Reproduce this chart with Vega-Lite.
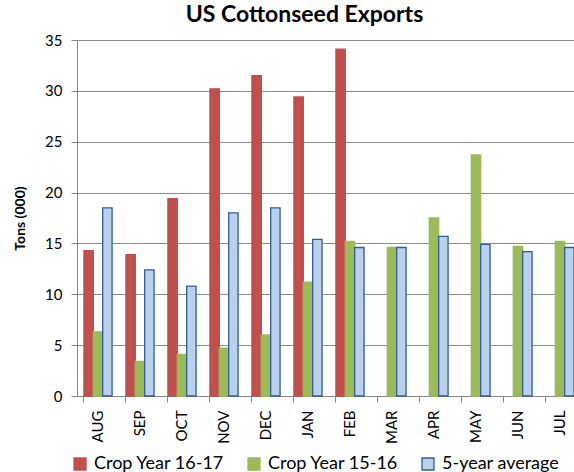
{
  "$schema": "https://vega.github.io/schema/vega-lite/v6.json",
  "width": 497,
  "height": 356,
  "autosize": "none",
  "padding": {"left": 77, "top": 40, "right": 0, "bottom": 76},
  "background": "white",
  "title": {
    "text": "US Cottonseed Exports",
    "font": "Lato",
    "fontSize": 23,
    "fontWeight": "bold",
    "color": "#000000",
    "anchor": "middle",
    "dx": -21,
    "offset": 6
  },
  "data": {
    "values": [
      {"month": "AUG", "series": "Crop Year 16-17", "value": 14.3},
      {"month": "AUG", "series": "Crop Year 15-16", "value": 6.3},
      {"month": "AUG", "series": "5-year average", "value": 18.5},
      {"month": "SEP", "series": "Crop Year 16-17", "value": 13.9},
      {"month": "SEP", "series": "Crop Year 15-16", "value": 3.4},
      {"month": "SEP", "series": "5-year average", "value": 12.4},
      {"month": "OCT", "series": "Crop Year 16-17", "value": 19.4},
      {"month": "OCT", "series": "Crop Year 15-16", "value": 4.1},
      {"month": "OCT", "series": "5-year average", "value": 10.8},
      {"month": "NOV", "series": "Crop Year 16-17", "value": 30.2},
      {"month": "NOV", "series": "Crop Year 15-16", "value": 4.7},
      {"month": "NOV", "series": "5-year average", "value": 18.0},
      {"month": "DEC", "series": "Crop Year 16-17", "value": 31.5},
      {"month": "DEC", "series": "Crop Year 15-16", "value": 6.0},
      {"month": "DEC", "series": "5-year average", "value": 18.5},
      {"month": "JAN", "series": "Crop Year 16-17", "value": 29.4},
      {"month": "JAN", "series": "Crop Year 15-16", "value": 11.2},
      {"month": "JAN", "series": "5-year average", "value": 15.4},
      {"month": "FEB", "series": "Crop Year 16-17", "value": 34.1},
      {"month": "FEB", "series": "Crop Year 15-16", "value": 15.2},
      {"month": "FEB", "series": "5-year average", "value": 14.6},
      {"month": "MAR", "series": "Crop Year 15-16", "value": 14.6},
      {"month": "MAR", "series": "5-year average", "value": 14.6},
      {"month": "APR", "series": "Crop Year 15-16", "value": 17.5},
      {"month": "APR", "series": "5-year average", "value": 15.7},
      {"month": "MAY", "series": "Crop Year 15-16", "value": 23.7},
      {"month": "MAY", "series": "5-year average", "value": 14.9},
      {"month": "JUN", "series": "Crop Year 15-16", "value": 14.7},
      {"month": "JUN", "series": "5-year average", "value": 14.2},
      {"month": "JUL", "series": "Crop Year 15-16", "value": 15.2},
      {"month": "JUL", "series": "5-year average", "value": 14.6}
    ]
  },
  "mark": {"type": "bar", "strokeWidth": 1.3},
  "encoding": {
    "x": {
      "field": "month",
      "type": "nominal",
      "sort": ["AUG","SEP","OCT","NOV","DEC","JAN","FEB","MAR","APR","MAY","JUN","JUL"],
      "scale": {"range": [0, 504], "paddingInner": 0.33, "paddingOuter": 0.165},
      "axis": {
        "title": null,
        "bandPosition": 0,
        "labelAngle": 270,
        "labelFont": "Lato",
        "labelFontSize": 15,
        "labelColor": "#000000",
        "labelPadding": 8,
        "tickSize": 6,
        "tickColor": "#868686",
        "domainColor": "#868686",
        "grid": false
      }
    },
    "xOffset": {
      "field": "series",
      "type": "nominal",
      "sort": ["Crop Year 16-17", "Crop Year 15-16", "5-year average"],
      "scale": {"domain": ["Crop Year 16-17", "Crop Year 15-16", "5-year average"], "paddingInner": 0, "paddingOuter": 0}
    },
    "y": {
      "field": "value",
      "type": "quantitative",
      "scale": {"domain": [0, 35], "nice": false},
      "axis": {
        "title": "Tons (000)",
        "titleFont": "Lato",
        "titleFontSize": 14,
        "titleFontWeight": "bold",
        "titleColor": "#000000",
        "titlePadding": 17,
        "values": [0, 5, 10, 15, 20, 25, 30, 35],
        "labelFont": "Lato",
        "labelFontSize": 15,
        "labelColor": "#000000",
        "labelPadding": 9,
        "tickSize": 6,
        "tickColor": "#868686",
        "domainColor": "#868686",
        "gridColor": "#8C8C8C",
        "gridWidth": 1
      }
    },
    "fill": {
      "field": "series",
      "type": "nominal",
      "title": null,
      "sort": ["Crop Year 16-17", "Crop Year 15-16", "5-year average"],
      "scale": {"domain": ["Crop Year 16-17", "Crop Year 15-16", "5-year average"], "range": ["#C0504D", "#9BBB59", "#BBD0EA"]},
      "legend": {
        "orient": "none",
        "direction": "horizontal",
        "legendX": -6,
        "legendY": 415,
        "symbolType": "square",
        "symbolSize": 144,
        "symbolStrokeWidth": 1.3,
        "labelFont": "Lato",
        "labelFontSize": 18,
        "labelColor": "#000000",
        "labelOffset": 5,
        "columnPadding": 20
      }
    },
    "stroke": {
      "field": "series",
      "type": "nominal",
      "title": null,
      "sort": ["Crop Year 16-17", "Crop Year 15-16", "5-year average"],
      "scale": {"domain": ["Crop Year 16-17", "Crop Year 15-16", "5-year average"], "range": ["#C0504D", "#9BBB59", "#2F5D99"]}
    }
  },
  "config": {
    "view": {"stroke": null},
    "font": "Lato"
  }
}
